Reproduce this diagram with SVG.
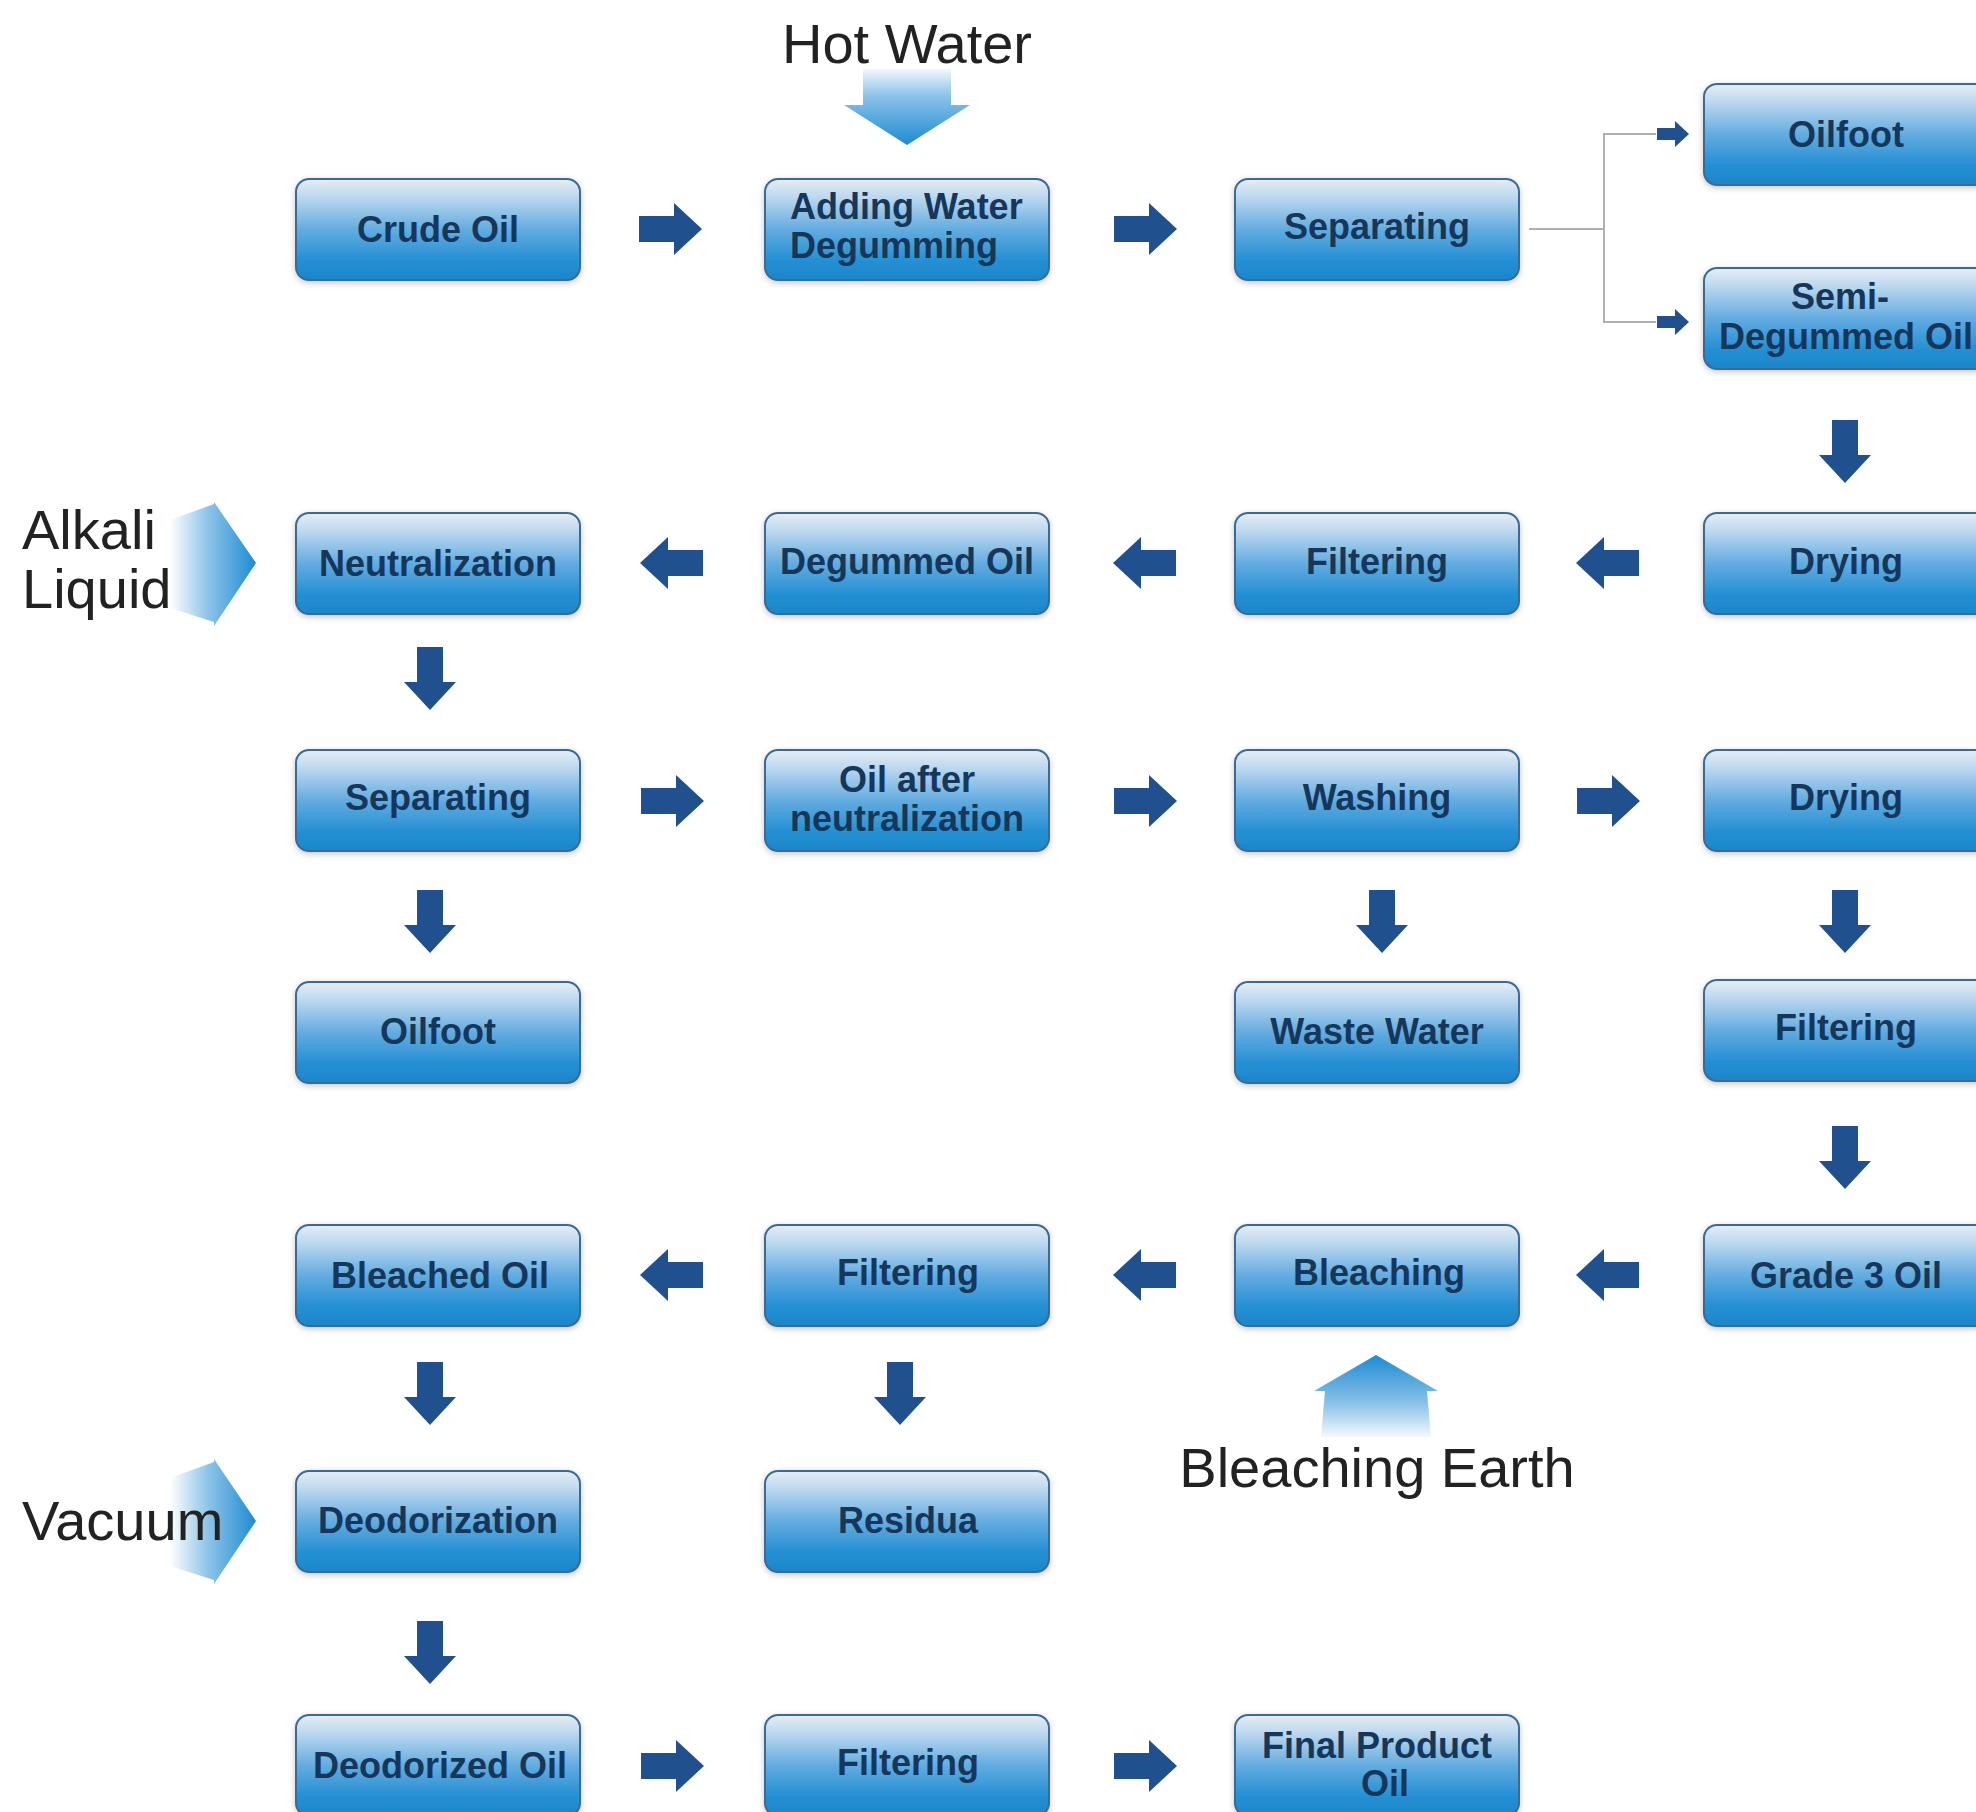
<svg xmlns="http://www.w3.org/2000/svg" xmlns:xlink="http://www.w3.org/1999/xlink" width="1976" height="1812" viewBox="0 0 1976 1812">
<defs>
<linearGradient id="boxg" x1="0" y1="0" x2="0" y2="1">
<stop offset="0" stop-color="#e6eef5"/>
<stop offset="0.18" stop-color="#bcd8ee"/>
<stop offset="0.5" stop-color="#63ace0"/>
<stop offset="0.8" stop-color="#2590d4"/>
<stop offset="1" stop-color="#1c86ca"/>
</linearGradient>
<linearGradient id="downg" x1="0" y1="0" x2="0" y2="1">
<stop offset="0" stop-color="#f2f8fc"/>
<stop offset="0.35" stop-color="#8cc3e8"/>
<stop offset="1" stop-color="#1d8bd3"/>
</linearGradient>
<linearGradient id="upg" x1="0" y1="1" x2="0" y2="0">
<stop offset="0" stop-color="#f4f9fd"/>
<stop offset="0.4" stop-color="#8cc3e8"/>
<stop offset="1" stop-color="#1d8bd3"/>
</linearGradient>
<linearGradient id="rightg" x1="0" y1="0" x2="1" y2="0">
<stop offset="0" stop-color="#ffffff"/>
<stop offset="0.45" stop-color="#8cc3e8"/>
<stop offset="1" stop-color="#1d8bd3"/>
</linearGradient>
<filter id="sh" x="-10%" y="-20%" width="120%" height="140%">
<feDropShadow dx="0" dy="2" stdDeviation="3" flood-color="#000" flood-opacity="0.22"/>
</filter>
<path id="arr" d="M-31,-13 H4 V-26 L32,0 L4,26 V13 H-31 Z" fill="#21508f"/>
<path id="sarr" d="M-16,-6 H2 V-13 L16,0 L2,13 V6 H-16 Z" fill="#21508f"/>
</defs>
<style>
.box{fill:url(#boxg);stroke:#3a6a96;stroke-width:2;filter:url(#sh)}
.t{font-family:"Liberation Sans",Arial,sans-serif;font-weight:bold;font-size:36px;fill:#16365a;text-anchor:middle}
.big{font-family:"Liberation Sans",Arial,sans-serif;font-size:56px;fill:#222}
.line{fill:none;stroke:#b0b0b0;stroke-width:2}
</style>
<rect width="1976" height="1812" fill="#ffffff"/>

<!-- inputs -->
<g id="hot-water">
<path d="M863,69 H951 V105 H970 L907,145 L844,105 H863 Z" fill="url(#downg)"/>
<text class="big" x="907" y="63" text-anchor="middle">Hot Water</text>
</g>
<g id="alkali-liquid">
<path d="M170,520 L214,504 V502 L256,563 L214,626 V622 L170,608 Z" fill="url(#rightg)"/>
<text class="big"><tspan x="22" y="549">Alkali</tspan><tspan x="22" y="608">Liquid</tspan></text>
</g>
<g id="vacuum">
<path d="M170,1478 L214,1462 V1459 L256,1521 L214,1584 V1580 L170,1566 Z" fill="url(#rightg)"/>
<text class="big" x="22" y="1540">Vacuum</text>
</g>
<g id="bleaching-earth">
<path d="M1376,1355 L1438,1391 H1427 L1431,1437 H1321 L1325,1391 H1314 Z" fill="url(#upg)"/>
<text class="big" x="1377" y="1487" text-anchor="middle">Bleaching Earth</text>
</g>

<!-- connectors -->
<g id="connectors">
<polyline class="line" points="1529,229 1604,229"/>
<polyline class="line" points="1656,134 1604,134 1604,322 1656,322"/>
<use xlink:href="#sarr" transform="translate(1673,134)"/>
<use xlink:href="#sarr" transform="translate(1673,322)"/>
<!-- row 1 -->
<use xlink:href="#arr" transform="translate(670,229)"/>
<use xlink:href="#arr" transform="translate(1145,229)"/>
<!-- row 2 left -->
<use xlink:href="#arr" transform="translate(672,563) rotate(180)"/>
<use xlink:href="#arr" transform="translate(1145,563) rotate(180)"/>
<use xlink:href="#arr" transform="translate(1608,563) rotate(180)"/>
<!-- row 3 right -->
<use xlink:href="#arr" transform="translate(672,801)"/>
<use xlink:href="#arr" transform="translate(1145,801)"/>
<use xlink:href="#arr" transform="translate(1608,801)"/>
<!-- row 5 left -->
<use xlink:href="#arr" transform="translate(672,1275) rotate(180)"/>
<use xlink:href="#arr" transform="translate(1145,1275) rotate(180)"/>
<use xlink:href="#arr" transform="translate(1608,1275) rotate(180)"/>
<!-- row 7 right -->
<use xlink:href="#arr" transform="translate(672,1766)"/>
<use xlink:href="#arr" transform="translate(1145,1766)"/>
<!-- down arrows -->
<use xlink:href="#arr" transform="translate(1845,451) rotate(90)"/>
<use xlink:href="#arr" transform="translate(430,678) rotate(90)"/>
<use xlink:href="#arr" transform="translate(430,921) rotate(90)"/>
<use xlink:href="#arr" transform="translate(1382,921) rotate(90)"/>
<use xlink:href="#arr" transform="translate(1845,921) rotate(90)"/>
<use xlink:href="#arr" transform="translate(1845,1157) rotate(90)"/>
<use xlink:href="#arr" transform="translate(430,1393) rotate(90)"/>
<use xlink:href="#arr" transform="translate(900,1393) rotate(90)"/>
<use xlink:href="#arr" transform="translate(430,1652) rotate(90)"/>
</g>

<!-- nodes -->
<g id="n-oilfoot-1"><rect class="box" x="1704" y="84" width="284" height="101" rx="13"/><text class="t" x="1846" y="147">Oilfoot</text></g>
<g id="n-crude-oil"><rect class="box" x="296" y="179" width="284" height="101" rx="13"/><text class="t" x="438" y="242">Crude Oil</text></g>
<g id="n-adding-water"><rect class="box" x="765" y="179" width="284" height="101" rx="13"/><text class="t" style="text-anchor:start"><tspan x="790" y="219">Adding Water</tspan><tspan x="790" y="258">Degumming</tspan></text></g>
<g id="n-separating-1"><rect class="box" x="1235" y="179" width="284" height="101" rx="13"/><text class="t" x="1377" y="239">Separating</text></g>
<g id="n-semi-degummed"><rect class="box" x="1704" y="268" width="284" height="101" rx="13"/><text class="t"><tspan x="1840" y="309">Semi-</tspan><tspan x="1846" y="349">Degummed Oil</tspan></text></g>

<g id="n-neutralization"><rect class="box" x="296" y="513" width="284" height="101" rx="13"/><text class="t" x="438" y="576">Neutralization</text></g>
<g id="n-degummed-oil"><rect class="box" x="765" y="513" width="284" height="101" rx="13"/><text class="t" x="907" y="574">Degummed Oil</text></g>
<g id="n-filtering-1"><rect class="box" x="1235" y="513" width="284" height="101" rx="13"/><text class="t" x="1377" y="574">Filtering</text></g>
<g id="n-drying-1"><rect class="box" x="1704" y="513" width="284" height="101" rx="13"/><text class="t" x="1846" y="574">Drying</text></g>

<g id="n-separating-2"><rect class="box" x="296" y="750" width="284" height="101" rx="13"/><text class="t" x="438" y="810">Separating</text></g>
<g id="n-oil-after"><rect class="box" x="765" y="750" width="284" height="101" rx="13"/><text class="t"><tspan x="907" y="792">Oil after</tspan><tspan x="907" y="831">neutralization</tspan></text></g>
<g id="n-washing"><rect class="box" x="1235" y="750" width="284" height="101" rx="13"/><text class="t" x="1377" y="810">Washing</text></g>
<g id="n-drying-2"><rect class="box" x="1704" y="750" width="284" height="101" rx="13"/><text class="t" x="1846" y="810">Drying</text></g>

<g id="n-oilfoot-2"><rect class="box" x="296" y="982" width="284" height="101" rx="13"/><text class="t" x="438" y="1044">Oilfoot</text></g>
<g id="n-waste-water"><rect class="box" x="1235" y="982" width="284" height="101" rx="13"/><text class="t" x="1377" y="1044">Waste Water</text></g>
<g id="n-filtering-2"><rect class="box" x="1704" y="980" width="284" height="101" rx="13"/><text class="t" x="1846" y="1040">Filtering</text></g>

<g id="n-bleached-oil"><rect class="box" x="296" y="1225" width="284" height="101" rx="13"/><text class="t" x="440" y="1288">Bleached Oil</text></g>
<g id="n-filtering-3"><rect class="box" x="765" y="1225" width="284" height="101" rx="13"/><text class="t" x="908" y="1285">Filtering</text></g>
<g id="n-bleaching"><rect class="box" x="1235" y="1225" width="284" height="101" rx="13"/><text class="t" x="1379" y="1285">Bleaching</text></g>
<g id="n-grade3"><rect class="box" x="1704" y="1225" width="284" height="101" rx="13"/><text class="t" x="1846" y="1288">Grade 3 Oil</text></g>

<g id="n-deodorization"><rect class="box" x="296" y="1471" width="284" height="101" rx="13"/><text class="t" x="438" y="1533">Deodorization</text></g>
<g id="n-residua"><rect class="box" x="765" y="1471" width="284" height="101" rx="13"/><text class="t" x="908" y="1533">Residua</text></g>

<g id="n-deodorized-oil"><rect class="box" x="296" y="1715" width="284" height="101" rx="13"/><text class="t" x="440" y="1778">Deodorized Oil</text></g>
<g id="n-filtering-4"><rect class="box" x="765" y="1715" width="284" height="101" rx="13"/><text class="t" x="908" y="1775">Filtering</text></g>
<g id="n-final-product"><rect class="box" x="1235" y="1715" width="284" height="101" rx="13"/><text class="t"><tspan x="1377" y="1758">Final Product</tspan><tspan x="1385" y="1796">Oil</tspan></text></g>
</svg>
